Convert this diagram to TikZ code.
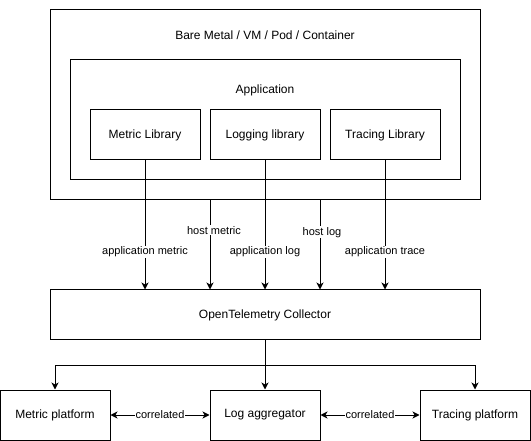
\documentclass[tikz,border=0pt]{standalone}
\usepackage{fontspec}
\setmainfont{Liberation Sans}
\usetikzlibrary{arrows.meta}
\begin{document}
\begin{tikzpicture}[x=1pt,y=-1pt,
  box/.style={draw,line width=1pt,rectangle,inner sep=0pt,font=\fontsize{12}{14}\selectfont},
  arr/.style={line width=1pt,-{Stealth[length=7pt,width=7pt,inset=2pt]}},
  biarr/.style={line width=1pt,{Stealth[length=7pt,width=7pt,inset=2pt]}-{Stealth[length=7pt,width=7pt,inset=2pt]}},
  lbl/.style={fill=white,inner sep=1pt,font=\fontsize{11}{13}\selectfont},
  ttl/.style={inner sep=0pt,font=\fontsize{12}{14}\selectfont}]
\useasboundingbox (0,0) rectangle (531,441);
\node[box,minimum width=430pt,minimum height=190pt] (outer) at (265,105) {};
\node[ttl] (outert) at (265,35) {Bare Metal / VM / Pod / Container};
\node[box,minimum width=390pt,minimum height=120pt] (app) at (265,120) {};
\node[ttl] (appt) at (265,90) {Application};
\node[box,minimum width=110pt,minimum height=50pt] (mlib) at (145,135) {Metric Library};
\node[box,minimum width=110pt,minimum height=50pt] (llib) at (265,135) {Logging library};
\node[box,minimum width=110pt,minimum height=50pt] (tlib) at (385,135) {Tracing Library};
\node[box,minimum width=430pt,minimum height=50pt] (coll) at (265,315) {OpenTelemetry Collector};
\node[box,minimum width=110pt,minimum height=50pt] (mplat) at (55,415) {Metric platform};
\node[box,minimum width=110pt,minimum height=50pt] (logagg) at (265,415) {Log aggregator};
\node[box,minimum width=110pt,minimum height=50pt] (tplat) at (475,415) {Tracing platform};
\coordinate (hm) at (210,200);
\coordinate (hl) at (320,200);
\coordinate (br) at (265,365);
\draw[arr] (mlib.south) -- node[lbl,pos=0.71] (l1) {application metric} (mlib.south |- coll.north);
\draw[arr] (llib.south) -- node[lbl,pos=0.71] (l3) {application log} (llib.south |- coll.north);
\draw[arr] (tlib.south) -- node[lbl,pos=0.71] (l5) {application trace} (tlib.south |- coll.north);
\draw[arr] (hm) -- node[lbl,pos=0.34,xshift=4pt] (l2) {host metric} (hm |- coll.north);
\draw[arr] (hl) -- node[lbl,pos=0.36,xshift=2pt] (l4) {host log} (hl |- coll.north);
\draw[arr] (coll.south) -- (logagg.north);
\draw[line width=1pt] (mplat.north |- br) -- (tplat.north |- br);
\draw[arr] (br) -| (mplat.north);
\draw[arr] (br) -| (tplat.north);
\draw[biarr] (mplat.east) -- node[lbl] (c1) {correlated} (logagg.west);
\draw[biarr] (logagg.east) -- node[lbl] (c2) {correlated} (tplat.west);
\end{tikzpicture}
\end{document}
